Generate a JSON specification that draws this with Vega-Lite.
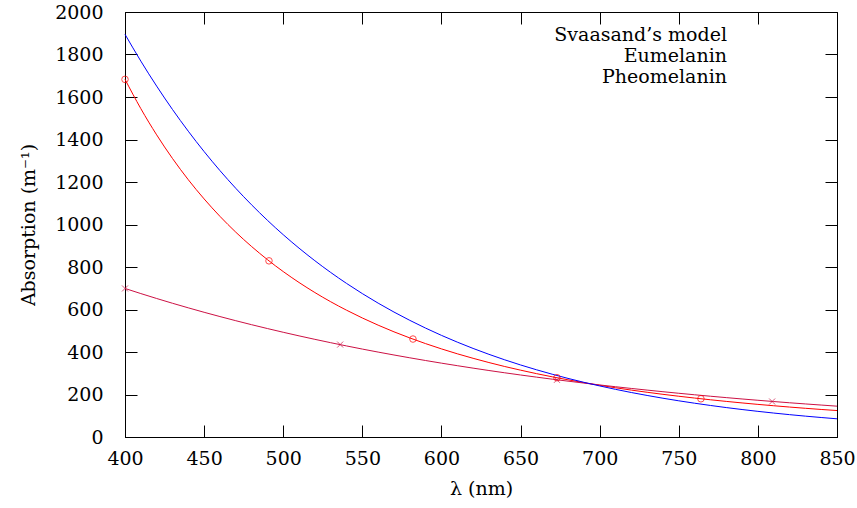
{
"$schema": "https://vega.github.io/schema/vega-lite/v6.json",
"width": 712, "height": 425,
"autosize": {"type": "none"},
"padding": {"left": 125, "top": 12, "right": 20, "bottom": 71},
"background": "white",
"config": {
  "font": "DejaVu Serif",
  "view": {"stroke": "black", "strokeWidth": 1},
  "axis": {"labelFontSize": 19, "titleFontSize": 19, "labelColor": "black", "titleColor": "black", "titleFontWeight": "normal", "tickColor": "black", "domainColor": "black", "tickSize": -12, "grid": false, "labelFlush": false, "labelOverlap": false, "labelBound": false}
},
"datasets": {
"curves": [
{"lambda":400,"absorption":1683,"series":"Svaasand’s model"},{"lambda":410,"absorption":1545.3,"series":"Svaasand’s model"},{"lambda":420,"absorption":1421.9,"series":"Svaasand’s model"},{"lambda":430,"absorption":1310.9,"series":"Svaasand’s model"},{"lambda":440,"absorption":1210.7,"series":"Svaasand’s model"},{"lambda":450,"absorption":1120.4,"series":"Svaasand’s model"},{"lambda":460,"absorption":1038.4,"series":"Svaasand’s model"},{"lambda":470,"absorption":964.0,"series":"Svaasand’s model"},{"lambda":480,"absorption":896.5,"series":"Svaasand’s model"},{"lambda":490,"absorption":834.8,"series":"Svaasand’s model"},{"lambda":500,"absorption":778.5,"series":"Svaasand’s model"},{"lambda":510,"absorption":727.1,"series":"Svaasand’s model"},{"lambda":520,"absorption":679.8,"series":"Svaasand’s model"},{"lambda":530,"absorption":636.5,"series":"Svaasand’s model"},{"lambda":540,"absorption":596.8,"series":"Svaasand’s model"},{"lambda":550,"absorption":560.1,"series":"Svaasand’s model"},{"lambda":560,"absorption":526.3,"series":"Svaasand’s model"},{"lambda":570,"absorption":495.0,"series":"Svaasand’s model"},{"lambda":580,"absorption":466.2,"series":"Svaasand’s model"},{"lambda":590,"absorption":439.4,"series":"Svaasand’s model"},{"lambda":600,"absorption":414.7,"series":"Svaasand’s model"},{"lambda":610,"absorption":391.6,"series":"Svaasand’s model"},{"lambda":620,"absorption":370.3,"series":"Svaasand’s model"},{"lambda":630,"absorption":350.4,"series":"Svaasand’s model"},{"lambda":640,"absorption":331.7,"series":"Svaasand’s model"},{"lambda":650,"absorption":314.5,"series":"Svaasand’s model"},{"lambda":660,"absorption":298.3,"series":"Svaasand’s model"},{"lambda":670,"absorption":283.2,"series":"Svaasand’s model"},{"lambda":680,"absorption":269.1,"series":"Svaasand’s model"},{"lambda":690,"absorption":255.8,"series":"Svaasand’s model"},{"lambda":700,"absorption":243.4,"series":"Svaasand’s model"},{"lambda":710,"absorption":231.7,"series":"Svaasand’s model"},{"lambda":720,"absorption":220.8,"series":"Svaasand’s model"},{"lambda":730,"absorption":210.5,"series":"Svaasand’s model"},{"lambda":740,"absorption":200.8,"series":"Svaasand’s model"},{"lambda":750,"absorption":191.8,"series":"Svaasand’s model"},{"lambda":760,"absorption":183.3,"series":"Svaasand’s model"},{"lambda":770,"absorption":175.2,"series":"Svaasand’s model"},{"lambda":780,"absorption":167.5,"series":"Svaasand’s model"},{"lambda":790,"absorption":160.3,"series":"Svaasand’s model"},{"lambda":800,"absorption":153.5,"series":"Svaasand’s model"},{"lambda":810,"absorption":147.1,"series":"Svaasand’s model"},{"lambda":820,"absorption":140.9,"series":"Svaasand’s model"},{"lambda":830,"absorption":135.1,"series":"Svaasand’s model"},{"lambda":840,"absorption":129.6,"series":"Svaasand’s model"},{"lambda":850,"absorption":124.5,"series":"Svaasand’s model"},
{"lambda":400,"absorption":699,"series":"Eumelanin"},{"lambda":410,"absorption":675.0,"series":"Eumelanin"},{"lambda":420,"absorption":651.8,"series":"Eumelanin"},{"lambda":430,"absorption":629.4,"series":"Eumelanin"},{"lambda":440,"absorption":607.8,"series":"Eumelanin"},{"lambda":450,"absorption":586.9,"series":"Eumelanin"},{"lambda":460,"absorption":566.8,"series":"Eumelanin"},{"lambda":470,"absorption":547.3,"series":"Eumelanin"},{"lambda":480,"absorption":528.5,"series":"Eumelanin"},{"lambda":490,"absorption":510.4,"series":"Eumelanin"},{"lambda":500,"absorption":492.8,"series":"Eumelanin"},{"lambda":510,"absorption":475.9,"series":"Eumelanin"},{"lambda":520,"absorption":459.6,"series":"Eumelanin"},{"lambda":530,"absorption":443.8,"series":"Eumelanin"},{"lambda":540,"absorption":428.6,"series":"Eumelanin"},{"lambda":550,"absorption":413.8,"series":"Eumelanin"},{"lambda":560,"absorption":399.6,"series":"Eumelanin"},{"lambda":570,"absorption":385.9,"series":"Eumelanin"},{"lambda":580,"absorption":372.7,"series":"Eumelanin"},{"lambda":590,"absorption":359.9,"series":"Eumelanin"},{"lambda":600,"absorption":347.5,"series":"Eumelanin"},{"lambda":610,"absorption":335.6,"series":"Eumelanin"},{"lambda":620,"absorption":324.1,"series":"Eumelanin"},{"lambda":630,"absorption":312.9,"series":"Eumelanin"},{"lambda":640,"absorption":302.2,"series":"Eumelanin"},{"lambda":650,"absorption":291.8,"series":"Eumelanin"},{"lambda":660,"absorption":281.8,"series":"Eumelanin"},{"lambda":670,"absorption":272.1,"series":"Eumelanin"},{"lambda":680,"absorption":262.8,"series":"Eumelanin"},{"lambda":690,"absorption":253.8,"series":"Eumelanin"},{"lambda":700,"absorption":245.0,"series":"Eumelanin"},{"lambda":710,"absorption":236.6,"series":"Eumelanin"},{"lambda":720,"absorption":228.5,"series":"Eumelanin"},{"lambda":730,"absorption":220.7,"series":"Eumelanin"},{"lambda":740,"absorption":213.1,"series":"Eumelanin"},{"lambda":750,"absorption":205.8,"series":"Eumelanin"},{"lambda":760,"absorption":198.7,"series":"Eumelanin"},{"lambda":770,"absorption":191.9,"series":"Eumelanin"},{"lambda":780,"absorption":185.3,"series":"Eumelanin"},{"lambda":790,"absorption":178.9,"series":"Eumelanin"},{"lambda":800,"absorption":172.8,"series":"Eumelanin"},{"lambda":810,"absorption":166.9,"series":"Eumelanin"},{"lambda":820,"absorption":161.1,"series":"Eumelanin"},{"lambda":830,"absorption":155.6,"series":"Eumelanin"},{"lambda":840,"absorption":150.3,"series":"Eumelanin"},{"lambda":850,"absorption":145.1,"series":"Eumelanin"},
{"lambda":400,"absorption":1895,"series":"Pheomelanin"},{"lambda":410,"absorption":1768.9,"series":"Pheomelanin"},{"lambda":420,"absorption":1651.3,"series":"Pheomelanin"},{"lambda":430,"absorption":1541.4,"series":"Pheomelanin"},{"lambda":440,"absorption":1438.9,"series":"Pheomelanin"},{"lambda":450,"absorption":1343.2,"series":"Pheomelanin"},{"lambda":460,"absorption":1253.8,"series":"Pheomelanin"},{"lambda":470,"absorption":1170.4,"series":"Pheomelanin"},{"lambda":480,"absorption":1092.6,"series":"Pheomelanin"},{"lambda":490,"absorption":1019.9,"series":"Pheomelanin"},{"lambda":500,"absorption":952.0,"series":"Pheomelanin"},{"lambda":510,"absorption":888.7,"series":"Pheomelanin"},{"lambda":520,"absorption":829.6,"series":"Pheomelanin"},{"lambda":530,"absorption":774.4,"series":"Pheomelanin"},{"lambda":540,"absorption":722.9,"series":"Pheomelanin"},{"lambda":550,"absorption":674.8,"series":"Pheomelanin"},{"lambda":560,"absorption":629.9,"series":"Pheomelanin"},{"lambda":570,"absorption":588.0,"series":"Pheomelanin"},{"lambda":580,"absorption":548.9,"series":"Pheomelanin"},{"lambda":590,"absorption":512.4,"series":"Pheomelanin"},{"lambda":600,"absorption":478.3,"series":"Pheomelanin"},{"lambda":610,"absorption":446.5,"series":"Pheomelanin"},{"lambda":620,"absorption":416.8,"series":"Pheomelanin"},{"lambda":630,"absorption":389.1,"series":"Pheomelanin"},{"lambda":640,"absorption":363.2,"series":"Pheomelanin"},{"lambda":650,"absorption":339.0,"series":"Pheomelanin"},{"lambda":660,"absorption":316.5,"series":"Pheomelanin"},{"lambda":670,"absorption":295.4,"series":"Pheomelanin"},{"lambda":680,"absorption":275.8,"series":"Pheomelanin"},{"lambda":690,"absorption":257.4,"series":"Pheomelanin"},{"lambda":700,"absorption":240.3,"series":"Pheomelanin"},{"lambda":710,"absorption":224.3,"series":"Pheomelanin"},{"lambda":720,"absorption":209.4,"series":"Pheomelanin"},{"lambda":730,"absorption":195.5,"series":"Pheomelanin"},{"lambda":740,"absorption":182.5,"series":"Pheomelanin"},{"lambda":750,"absorption":170.3,"series":"Pheomelanin"},{"lambda":760,"absorption":159.0,"series":"Pheomelanin"},{"lambda":770,"absorption":148.4,"series":"Pheomelanin"},{"lambda":780,"absorption":138.5,"series":"Pheomelanin"},{"lambda":790,"absorption":129.3,"series":"Pheomelanin"},{"lambda":800,"absorption":120.7,"series":"Pheomelanin"},{"lambda":810,"absorption":112.7,"series":"Pheomelanin"},{"lambda":820,"absorption":105.2,"series":"Pheomelanin"},{"lambda":830,"absorption":98.2,"series":"Pheomelanin"},{"lambda":840,"absorption":91.7,"series":"Pheomelanin"},{"lambda":850,"absorption":85.6,"series":"Pheomelanin"}
],
"markers": [
{"lambda":400,"absorption":1683,"series":"Svaasand’s model"},{"lambda":491,"absorption":829,"series":"Svaasand’s model"},{"lambda":582,"absorption":461,"series":"Svaasand’s model"},{"lambda":673,"absorption":279,"series":"Svaasand’s model"},{"lambda":764,"absorption":180,"series":"Svaasand’s model"},
{"lambda":400,"absorption":699,"series":"Eumelanin"},{"lambda":536,"absorption":435,"series":"Eumelanin"},{"lambda":673,"absorption":269,"series":"Eumelanin"},{"lambda":809,"absorption":167,"series":"Eumelanin"}
]
},
"layer": [
{
  "data": {"name": "curves"},
  "mark": {"type": "line", "strokeWidth": 1, "interpolate": "monotone"},
  "encoding": {
    "x": {"field": "lambda", "type": "quantitative", "scale": {"domain": [400, 850], "nice": false, "zero": false},
          "axis": {"orient": "bottom", "values": [400,450,500,550,600,650,700,750,800,850], "format": "d", "title": "λ (nm)", "labelPadding": 24, "titlePadding": 11}},
    "y": {"field": "absorption", "type": "quantitative", "scale": {"domain": [0, 2000], "nice": false},
          "axis": {"orient": "left", "values": [0,200,400,600,800,1000,1200,1400,1600,1800,2000], "format": "d", "title": "Absorption (m⁻¹)", "labelPadding": 34, "titlePadding": 16}},
    "color": {"field": "series", "type": "nominal", "scale": {"domain": ["Svaasand’s model", "Eumelanin", "Pheomelanin"], "range": ["#ff0000", "#cc1144", "#0000ff"]},
      "legend": {"title": null, "orient": "none", "legendX": 622, "legendY": 12, "padding": 0, "labelFontSize": 19, "labelColor": "black", "labelAlign": "right", "labelOffset": -85, "symbolOffset": 0, "clipHeight": 21, "rowPadding": 0, "symbolType": "stroke", "symbolSize": 4096, "symbolStrokeWidth": 1, "labelLimit": 400}}
  }
},
{
  "data": {"name": "markers"},
  "transform": [{"filter": "datum.series === 'Svaasand’s model'"}],
  "mark": {"type": "point", "shape": "circle", "filled": false, "color": "#ff0000", "size": 43, "strokeWidth": 1},
  "encoding": {
    "x": {"field": "lambda", "type": "quantitative", "axis": null},
    "y": {"field": "absorption", "type": "quantitative", "axis": null}
  }
},
{
  "data": {"name": "markers"},
  "transform": [{"filter": "datum.series === 'Eumelanin'"}],
  "mark": {"type": "point", "shape": "M-1,-1L1,1M-1,1L1,-1", "filled": false, "color": "#cc1144", "size": 36, "strokeWidth": 1},
  "encoding": {
    "x": {"field": "lambda", "type": "quantitative", "axis": null},
    "y": {"field": "absorption", "type": "quantitative", "axis": null}
  }
},
{
  "data": {"name": "markers"},
  "mark": {"type": "point", "opacity": 0},
  "encoding": {
    "x": {"field": "lambda", "type": "quantitative", "axis": {"orient": "top", "values": [400,450,500,550,600,650,700,750,800,850], "labels": false, "title": null, "domain": false}},
    "y": {"field": "absorption", "type": "quantitative", "axis": {"orient": "right", "values": [0,200,400,600,800,1000,1200,1400,1600,1800,2000], "labels": false, "title": null, "domain": false}}
  }
}
],
"resolve": {"axis": {"x": "independent", "y": "independent"}}
}
